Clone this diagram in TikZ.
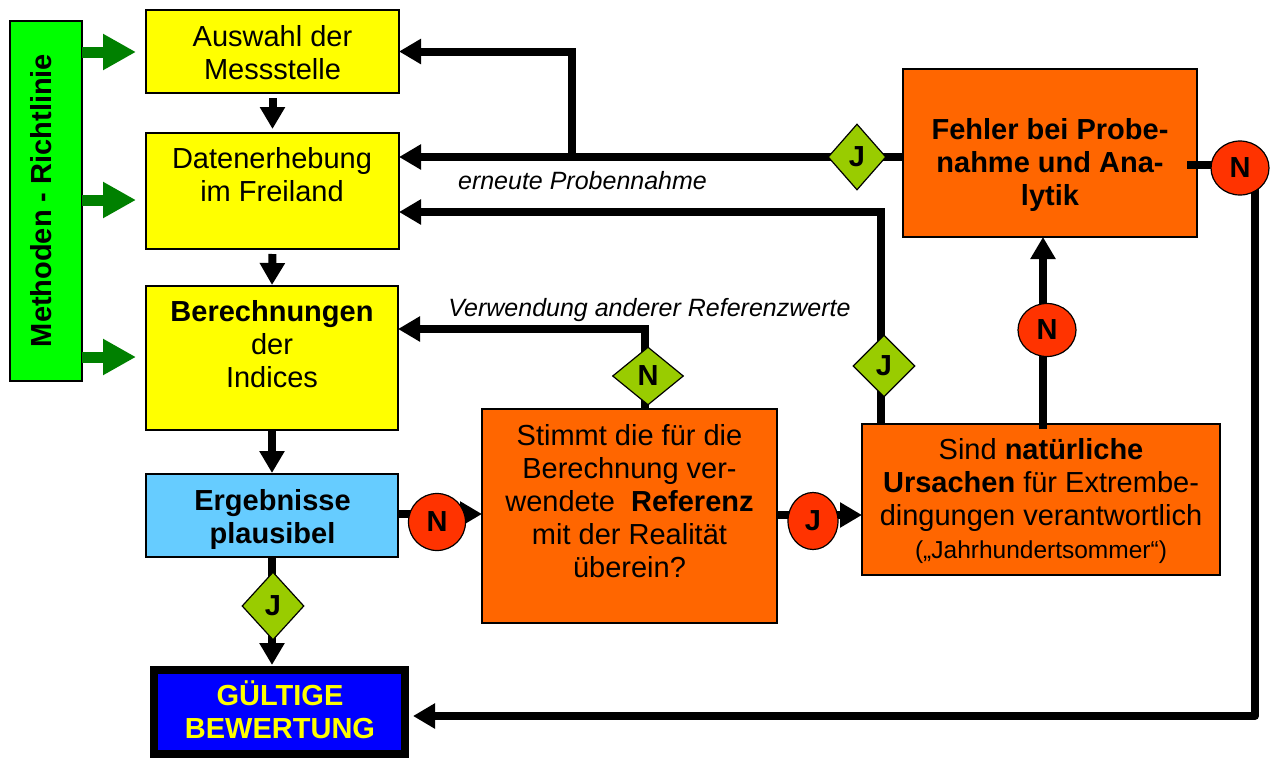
\documentclass[tikz,border=0pt]{standalone}
\usepackage{fontspec}
\setmainfont{Liberation Sans}
\usetikzlibrary{arrows.meta,shapes.geometric}
\definecolor{cgreen}{HTML}{00FF00}
\definecolor{cdgreen}{HTML}{008000}
\definecolor{cyellow}{HTML}{FFFF00}
\definecolor{cblue}{HTML}{66CCFF}
\definecolor{corange}{HTML}{FF6600}
\definecolor{cred}{HTML}{FF3300}
\definecolor{cdia}{HTML}{99CC00}
\definecolor{cdeep}{HTML}{0000FF}
\begin{document}
\begin{tikzpicture}[x=1pt,y=-1pt,
  box/.style={rectangle, draw=black, line width=1.2pt, inner sep=0pt, outer sep=0pt},
  ybox/.style={box, fill=cyellow},
  bbox/.style={box, fill=cblue},
  obox/.style={box, fill=corange},
  gbox/.style={box, fill=cgreen},
  finalbox/.style={box, fill=cdeep, line width=8pt},
  txt/.style={align=center, inner sep=0pt, font=\fontsize{29}{33}\selectfont},
  btxt/.style={align=center, inner sep=0pt, font=\fontsize{29}{33}\selectfont\bfseries},
  lbl/.style={inner sep=0pt, font=\fontsize{25}{30}\selectfont\itshape},
  arr/.style={line width=8pt, -{Triangle[length=22pt,width=24pt]}},
  garr/.style={line width=11pt, draw=cdgreen, -{Triangle[length=33pt,width=34pt]}},
  rc/.style={ellipse, draw=black, line width=1.2pt, fill=cred, inner sep=0pt, font=\fontsize{29}{33}\selectfont\bfseries},
  dia/.style={diamond, draw=black, line width=1.2pt, fill=cdia, inner sep=0pt, font=\fontsize{29}{33}\selectfont\bfseries}
]
\useasboundingbox (0,0) rectangle (1272,758);
\fill[white] (0,0) rectangle (1272,758);

% boxes
\node[gbox, minimum width=72pt, minimum height=360pt] (gr) at (46,201) {};
\node[ybox, minimum width=253pt, minimum height=83pt] (b1) at (272.5,51.5) {};
\node[ybox, minimum width=253pt, minimum height=116pt] (b2) at (272.5,191) {};
\node[ybox, minimum width=252pt, minimum height=144pt] (b3) at (272,358) {};
\node[bbox, minimum width=252pt, minimum height=83pt] (b4) at (272,515.5) {};
\node[finalbox, minimum width=251pt, minimum height=84pt] (gb) at (279.5,712) {};
\node[obox, minimum width=295pt, minimum height=214pt] (o1) at (629.5,516) {};
\node[obox, minimum width=358pt, minimum height=151pt] (o2) at (1041,499.5) {};
\node[obox, minimum width=294pt, minimum height=168pt] (fe) at (1050,153) {};

% texts
\node[btxt, rotate=90] (t9) at (41.5,200.5) {Methoden - Richtlinie};
\node[txt] (t1) at (272.5,52.5) {Auswahl der\\Messstelle};
\node[txt] (t2) at (272,174.5) {Datenerhebung\\im Freiland};
\node[txt] (t3) at (272,344.5) {\textbf{Berechnungen}\\der\\Indices};
\node[btxt] (t4) at (272.5,519) {Ergebnisse\\plausibel};
\node[btxt, text=cyellow] (t5) at (280,710) {GÜLTIGE\\BEWERTUNG};
\node[txt] (t6) at (629.5,501.5) {Stimmt die für die\\Berechnung ver-\\wendete\ \ \textbf{Referenz}\\mit der Realität\\überein?};
\node[txt] (t7) at (1041,501.5) {Sind \textbf{natürliche}\\\textbf{Ursachen} für Extrembe-\\dingungen verantwortlich\\{\fontsize{24.5}{33}\selectfont („Jahrhundertsommer“)}};
\node[btxt] (t8) at (1050,165) {Fehler bei Probe-\\nahme und Ana-\\lytik};
\node[lbl] (l1) at (582.5,180.5) {erneute Probennahme};
\node[lbl] (l2) at (649.5,310) {Verwendung anderer Referenzwerte};

% reference coordinates
\coordinate (yA) at (0,514);
\coordinate (yB) at (0,515);
\coordinate (yC) at (0,329);
\coordinate (yD) at (0,212);
\coordinate (yE) at (0,157);
\coordinate (yG) at (0,165);
\coordinate (yH) at (0,716);
\coordinate (xN) at (645,0);
\coordinate (xJ2) at (881,0);
\coordinate (xN2) at (1043,0);
\coordinate (xBr) at (572,0);
\coordinate (xR) at (1255,0);
\coordinate (g1) at (0,52);
\coordinate (g2) at (0,200);
\coordinate (g3) at (0,357);

% green arrows
\draw[garr, shorten >=10pt] (gr.east |- g1) -- (b1.west |- g1);
\draw[garr, shorten >=10pt] (gr.east |- g2) -- (b2.west |- g2);
\draw[garr, shorten >=10pt] (gr.east |- g3) -- (b3.west |- g3);

% connectors
\draw[arr, shorten <=5pt, shorten >=4pt] (b1.south) -- (b2.north);
\draw[arr, shorten <=5pt, shorten >=1pt] (b2.south) -- (b3.north);
\draw[arr, shorten >=1pt] (b3.south) -- (b4.north);
\draw[arr, shorten >=5pt] (b4.south) -- (b4.south |- gb.north);
\draw[arr] (b4.east |- yA) -- (o1.west |- yA);
\draw[arr] (o1.east |- yB) -- (o2.west |- yB);
\draw[arr] (o1.north -| xN) |- (b3.east |- yC);
\draw[arr] (o2.north -| xJ2) |- (b2.east |- yD);
\draw[arr, shorten <=-5pt] (o2.north -| xN2) -- (fe.south -| xN2);
\draw[arr] (fe.west |- yE) -- (b2.east |- yE);
\draw[arr] (xBr |- yE) |- (b1.east);
\draw[arr, line join=round, shorten <=-10pt, shorten >=8pt] (fe.east |- yG) -- (xR |- yG) -- (xR |- yH) -- (gb.east |- yH);

% decision markers
\node[rc, minimum width=57pt, minimum height=57pt] (n1) at (437,522) {N};
\node[rc, minimum width=50pt, minimum height=57pt] (j1) at (813,521) {J};
\node[rc, minimum width=58pt, minimum height=53pt] (n2) at (1047,330) {N};
\node[rc, minimum width=58pt, minimum height=54pt] (n3) at (1240,168) {N};
\node[dia, minimum width=62pt, minimum height=68pt] (d1) at (273,606) {J};
\node[dia, minimum width=71pt, minimum height=58pt] (d2) at (648,376) {N};
\node[dia, minimum width=62pt, minimum height=62pt] (d3) at (884,366) {J};
\node[dia, minimum width=58pt, minimum height=66pt] (d4) at (857,157) {J};
\end{tikzpicture}
\end{document}
